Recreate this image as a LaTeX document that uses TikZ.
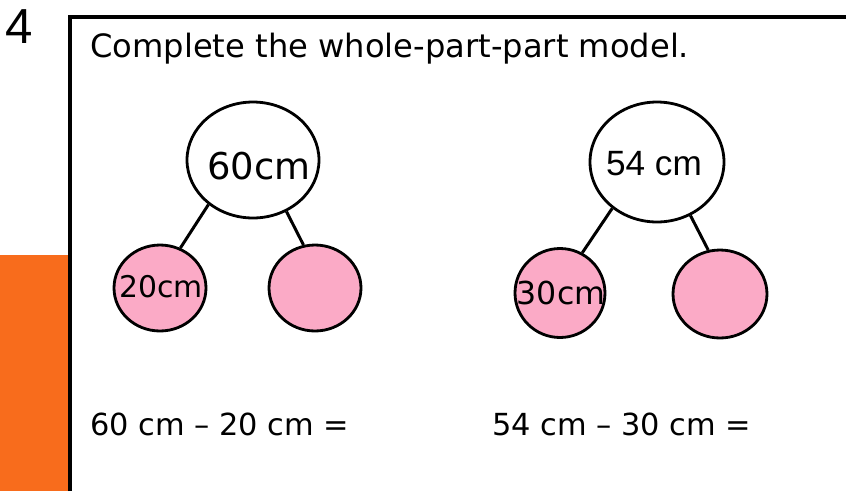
\documentclass[tikz,border=0pt]{standalone}
\usepackage{fontspec}
\setmainfont{DejaVu Sans}
\newfontfamily\arialfont{Liberation Sans}
\usepackage{xcolor}
\usetikzlibrary{shapes.geometric, positioning}

\definecolor{tabOrange}{HTML}{F86C1C}
\definecolor{partPink}{HTML}{FBAAC6}

\begin{document}
\begin{tikzpicture}[
  x=0.02cm, y=-0.02cm,
  whole/.style={ellipse, draw=black, line width=1.6pt, fill=white,
                minimum width=2.64cm, minimum height=2.32cm, inner sep=0pt},
  part/.style={ellipse, draw=black, line width=1.6pt, fill=partPink,
               minimum width=1.84cm, minimum height=1.72cm, inner sep=0pt},
  val/.style={inner sep=0pt, font=\fontsize{18}{20}\selectfont},
  sum/.style={anchor=base west, inner sep=0pt, font=\fontsize{17.3}{20}\selectfont},
  link/.style={line width=1.7pt, black},
  frame/.style={line width=2.6pt, black}
]
\useasboundingbox (0,0) rectangle (846,491);
\fill[tabOrange] (0,255) rectangle (68,491);
\draw[frame] (70,491) |- (846,17);

\node[anchor=base west, inner sep=0pt, font=\arialfont\fontsize{28}{30}\selectfont] (num) at (5,43) {4};
\node[anchor=base west, inner sep=0pt, font=\fontsize{18.3}{22}\selectfont] (title) at (90,57) {Complete the whole-part-part model.};

% first model
\node[whole] (w1)  at (253,160) {};
\node[part]  (p1a) at (160,288) {};
\node[part]  (p1b) at (315,288) {};
\node[val, font=\fontsize{21}{24}\selectfont] (v1)  at (259,166) {60cm};
\node[val, font=\fontsize{17}{20}\selectfont] (v1a) at (161,287) {20cm};
\draw[link] (w1.225) -- (p1a.63);
\draw[link] (w1.-57) -- (p1b.105);

% second model
\node[whole, minimum width=2.68cm, minimum height=2.4cm] (w2) at (657,162) {};
\node[part, minimum width=1.8cm, minimum height=1.78cm] (p2a) at (560,293) {};
\node[part, minimum width=1.88cm, minimum height=1.76cm] (p2b) at (720,294) {};
\node[val, font=\arialfont\fontsize{20}{24}\selectfont] (v2)  at (654,164) {54 cm};
\node[val, font=\fontsize{18}{20}\selectfont] (v2a) at (561,293) {30cm};
\draw[link] (w2.226) -- (p2a.61);
\draw[link] (w2.-58) -- (p2b.105);

\node[sum] (s1) at (90,435)  {60 cm – 20 cm =};
\node[sum] (s2) at (492,435) {54 cm – 30 cm =};
\end{tikzpicture}
\end{document}
